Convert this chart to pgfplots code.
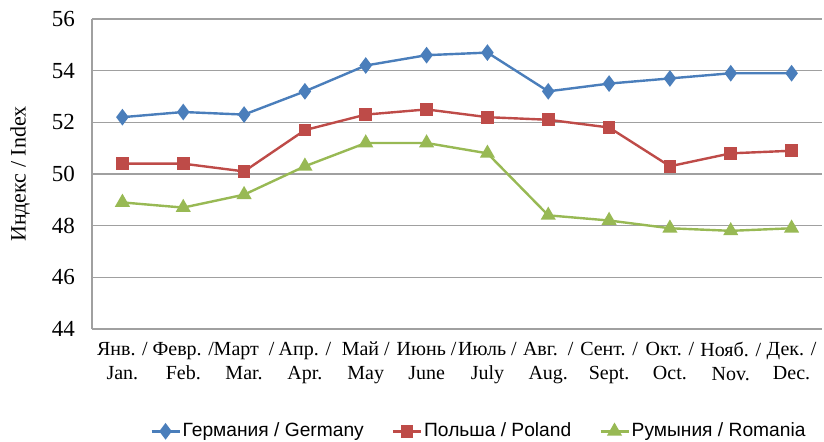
\documentclass[border=0pt]{standalone}
\usepackage{fontspec}
\setmainfont{Liberation Serif}
\newfontfamily\legfont{Liberation Sans}
\usepackage{pgfplots}
\pgfplotsset{compat=1.18}
\definecolor{cGer}{HTML}{4A7EBB}
\definecolor{cPol}{HTML}{BE4B48}
\definecolor{cRom}{HTML}{98B954}
\definecolor{gridc}{HTML}{A0A0A0}
\begin{document}
\begin{tikzpicture}
\path[use as bounding box] (0,0) rectangle (412pt,220.5pt);
\begin{axis}[
  at={(46pt,56pt)}, anchor=south west,
  scale only axis, width=365pt, height=155pt,
  xmin=-0.5, xmax=11.5, ymin=44, ymax=56,
  ytick={44,46,48,50,52,54,56},
  yticklabels={44,46,48,50,52,54,56},
  xtick={0,...,11},
  xticklabels={{Янв. /\\Jan.},{Февр. /\\Feb.},{Март~~/\\Mar.},{Апр. /\\Apr.},{Май /\\May},{Июнь /\\June},{Июль /\\July},{Авг.~~/\\Aug.},{Сент. /\\Sept.},{Окт. /\\Oct.},{Нояб. /\\Nov.},{Дек. /\\Dec.}},
  xticklabel style={align=center, font=\rmfamily\fontsize{10}{12}\selectfont, yshift=-3pt},
  yticklabel style={font=\rmfamily\fontsize{11.5}{13}\selectfont, xshift=-5pt},
  axis x line*=bottom, axis y line*=left,
  axis line style={gridc, line width=0.6pt},
  x axis line style={-}, y axis line style={-},
  major tick length=0pt,
  ymajorgrids, grid style={gridc, line width=0.6pt},
  ylabel={Индекс / Index},
  ylabel style={font=\rmfamily\fontsize{11}{13}\selectfont, at={(-36pt,0.5)}, anchor=center, rotate=0},
  legend style={at={(0.53,-0.33)}, anchor=center, draw=none, legend columns=3,
    font=\legfont\fontsize{9.6}{12}\selectfont, column sep=0pt,
    /tikz/every odd column/.append style={column sep=0pt},
    /tikz/every even column/.append style={column sep=13pt},
    nodes={inner xsep=1pt}},
  legend cell align=left,
  legend image code/.code={\draw[#1] (0pt,0pt) -- (14pt,0pt); \draw[#1, mark repeat=1] plot coordinates {(7pt,0pt)};},
  every axis plot/.append style={line width=1.2pt},
]
\addplot[cGer, mark=diamond*, mark size=3.2pt] coordinates {
(0,52.2)(1,52.4)(2,52.3)(3,53.2)(4,54.2)(5,54.6)(6,54.7)(7,53.2)(8,53.5)(9,53.7)(10,53.9)(11,53.9)};
\addlegendentry{Германия / Germany}
\addplot[cPol, mark=square*, mark size=2.6pt] coordinates {
(0,50.4)(1,50.4)(2,50.1)(3,51.7)(4,52.3)(5,52.5)(6,52.2)(7,52.1)(8,51.8)(9,50.3)(10,50.8)(11,50.9)};
\addlegendentry{Польша / Poland}
\addplot[cRom, mark=triangle*, mark size=3.2pt] coordinates {
(0,48.9)(1,48.7)(2,49.2)(3,50.3)(4,51.2)(5,51.2)(6,50.8)(7,48.4)(8,48.2)(9,47.9)(10,47.8)(11,47.9)};
\addlegendentry{Румыния / Romania}
\end{axis}
\end{tikzpicture}
\end{document}
